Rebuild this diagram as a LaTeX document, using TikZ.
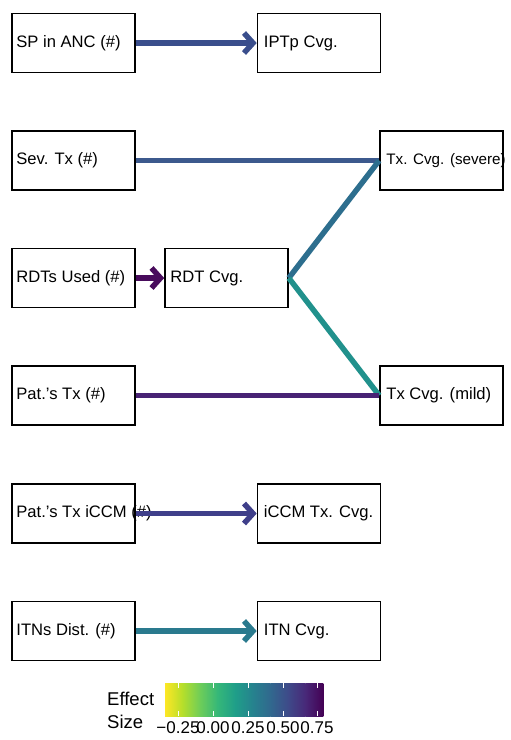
\documentclass[tikz,border=0pt]{standalone}
\usepackage{fontspec}
\usepackage{xcolor}
\usepackage{tikz}
\usetikzlibrary{arrows.meta}
\setmainfont{Liberation Sans}
\definecolor{effsp}{HTML}{3A4E8C}
\definecolor{effsev}{HTML}{3C598D}
\definecolor{effrdt}{HTML}{480B5C}
\definecolor{effsevere}{HTML}{2D6E8E}
\definecolor{effmild}{HTML}{21918C}
\definecolor{effpat}{HTML}{482274}
\definecolor{efficcm}{HTML}{3F3F8A}
\definecolor{effitn}{HTML}{2A7A8E}
% viridis, reversed (yellow = low)
\definecolor{vir0}{HTML}{FDE725}
\definecolor{vir1}{HTML}{B5DE2B}
\definecolor{vir2}{HTML}{6DCD59}
\definecolor{vir3}{HTML}{35B779}
\definecolor{vir4}{HTML}{1F9E89}
\definecolor{vir5}{HTML}{26828E}
\definecolor{vir6}{HTML}{31688E}
\definecolor{vir7}{HTML}{3E4A89}
\definecolor{vir8}{HTML}{482878}
\definecolor{vir9}{HTML}{440154}

\begin{document}
\begin{tikzpicture}[x=1pt,y=-1pt,
  varbox/.style={draw, line width=1.6pt, fill=white, minimum width=123pt, minimum height=59pt, inner sep=0pt},
  vartext/.style={anchor=west, inner sep=0pt, font=\fontsize{16.6}{19}\selectfont},
  effect/.style={line width=5.5pt},
  effarrow/.style={effect, -{Straight Barb[length=9pt,width=20pt]}}]
  \useasboundingbox (0,0) rectangle (511,740);

  % boxes
  \node[varbox] (sp) at (73.5,43) {};
  \node[varbox] (iptp) at (319,43) {};
  \node[varbox] (sevtx) at (73.5,160.5) {};
  \node[varbox] (txsev) at (441.5,160.5) {};
  \node[varbox] (rdts) at (73.5,278) {};
  \node[varbox] (rdtcvg) at (226.5,278) {};
  \node[varbox] (pattx) at (73.5,395.5) {};
  \node[varbox] (txmild) at (441.5,395.5) {};
  \node[varbox] (paticcm) at (73.5,513.5) {};
  \node[varbox] (iccm) at (319,513.5) {};
  \node[varbox] (itns) at (73.5,631) {};
  \node[varbox] (itn) at (319,631) {};

  % labels
  \node[vartext] (sp-t) at ([xshift=5pt]sp.west) {SP in ANC (\#)};
  \node[vartext] (iptp-t) at ([xshift=7pt]iptp.west) {IPTp Cvg.};
  \node[vartext] (sevtx-t) at ([xshift=5pt]sevtx.west) {Sev. Tx (\#)};
  \node[vartext, font=\fontsize{15.2}{18}\selectfont] (txsev-t) at ([xshift=7pt]txsev.west) {Tx. Cvg. (severe)};
  \node[vartext] (rdts-t) at ([xshift=5pt]rdts.west) {RDTs Used (\#)};
  \node[vartext] (rdtcvg-t) at ([xshift=6pt]rdtcvg.west) {RDT Cvg.};
  \node[vartext] (pattx-t) at ([xshift=5pt]pattx.west) {Pat.'s Tx (\#)};
  \node[vartext] (txmild-t) at ([xshift=7pt]txmild.west) {Tx Cvg. (mild)};
  \node[vartext] (paticcm-t) at ([xshift=5pt]paticcm.west) {Pat.'s Tx iCCM (\#)};
  \node[vartext] (iccm-t) at ([xshift=7pt]iccm.west) {iCCM Tx. Cvg.};
  \node[vartext] (itns-t) at ([xshift=5pt]itns.west) {ITNs Dist. (\#)};
  \node[vartext] (itn-t) at ([xshift=7pt]itn.west) {ITN Cvg.};

  % effects
  \draw[effarrow, effsp] (sp.east) -- (iptp.west);
  \draw[effect, effsev] (sevtx.east) -- (txsev.west);
  \draw[effarrow, effrdt] (rdts.east) -- (rdtcvg.west);
  \draw[effect, effsevere] (rdtcvg.east) -- (txsev.west);
  \draw[effect, effmild] (rdtcvg.east) -- (txmild.west);
  \draw[effect, effpat] (pattx.east) -- (txmild.west);
  \draw[effarrow, efficcm] (paticcm.east) -- (iccm.west);
  \draw[effarrow, effitn] (itns.east) -- (itn.west);

  % legend
  \node[anchor=west, align=left, inner sep=0pt, font=\fontsize{18.5}{23}\selectfont] (efflab) at (107,710.5) {Effect\\Size};
  \foreach \i/\ca/\cb in {0/vir0/vir1,1/vir1/vir2,2/vir2/vir3,3/vir3/vir4,4/vir4/vir5,5/vir5/vir6,6/vir6/vir7,7/vir7/vir8,8/vir8/vir9}
    \shade[left color=\ca, right color=\cb] ({165+\i*17.56},683) rectangle ({165+\i*17.56+17.8},716);
  \foreach \x/\lab [count=\k] in {178/−0.25,213/0.00,248/0.25,283/0.50,317/0.75}{
    \draw[white, line width=0.8pt] (\x,683) -- (\x,688);
    \draw[white, line width=0.8pt] (\x,711) -- (\x,716);
    \node[inner sep=0pt, font=\fontsize{17}{19}\selectfont] (tick\k) at (\x,728) {\lab};
  }
\end{tikzpicture}
\end{document}
